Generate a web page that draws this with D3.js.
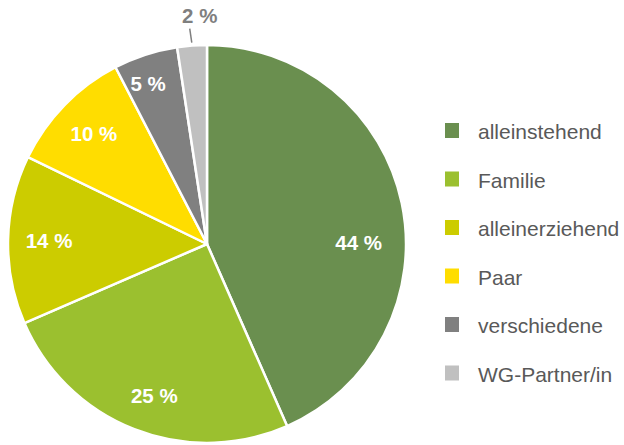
<!DOCTYPE html>
<html>
<head>
<meta charset="utf-8">
<script src="https://cdn.jsdelivr.net/npm/d3@7"></script>
<style>
  html, body { margin: 0; padding: 0; background: #fff; }
  svg { display: block; font-family: "Liberation Sans", Arial, sans-serif; }
</style>
</head>
<body>
<div id="chart"></div>
<script>
/* DATA */
const categories = ["alleinstehend", "Familie", "alleinerziehend", "Paar", "verschiedene", "WG-Partner/in"];
const shares = [43.4, 25.1, 13.7, 10.2, 5.2, 2.4];
const labels = ["44 %", "25 %", "14 %", "10 %", "5 %", "2 %"];
const colors = ["#6a8f4f", "#9bc02f", "#cccc00", "#ffdd00", "#808080", "#c0c0c0"];

/* CONSTANTS */
const width = 624,
  height = 445,
  cx = 207,
  cy = 244,
  radius = 199;

// excel pushes a few labels off the plain centroid
const labelNudge = { "alleinstehend": [-3, 31], "Familie": [5, 5], "verschiedene": [-10, -10] };

const data = categories.map((c, i) => ({ cat: c, value: shares[i], label: labels[i], color: colors[i] }));

const svg = d3.select("#chart")
  .append("svg")
  .attr("width", width)
  .attr("height", height);

const pie = d3.pie()
  .value(d => d.value)
  .sort(null);

const arc = d3.arc().innerRadius(0).outerRadius(radius);
const labelArc = d3.arc().innerRadius(158).outerRadius(158);

const arcs = pie(data);

const g = svg.append("g").attr("transform", `translate(${cx},${cy})`);

g.selectAll("path.slice")
  .data(arcs)
  .join("path")
  .attr("class", "slice")
  .attr("d", arc)
  .attr("fill", d => d.data.color)
  .attr("stroke", "#fff")
  .attr("stroke-width", 2.5)
  .attr("stroke-linejoin", "round");

// inside labels (all but the smallest slice)
const inside = arcs.slice(0, arcs.length - 1);
g.selectAll("text.inlabel")
  .data(inside)
  .join("text")
  .attr("class", "inlabel")
  .attr("transform", d => {
    const [x, y] = labelArc.centroid(d);
    const n = labelNudge[d.data.cat] || [0, 0];
    return `translate(${x + n[0]},${y + n[1]})`;
  })
  .attr("text-anchor", "middle")
  .attr("dy", "0.36em")
  .attr("fill", "#fff")
  .attr("font-weight", "bold")
  .attr("font-size", 20.5)
  .text(d => d.data.label);

// outside label for the last slice with a leader line
const last = arcs[arcs.length - 1];
const mid = (last.startAngle + last.endAngle) / 2;
const p1 = [Math.sin(mid) * (radius + 3), -Math.cos(mid) * (radius + 3)];
const p2 = [Math.sin(mid) * (radius + 17), -Math.cos(mid) * (radius + 17)];
g.append("line")
  .attr("x1", p1[0]).attr("y1", p1[1])
  .attr("x2", p2[0] - 1).attr("y2", p2[1])
  .attr("stroke", "#7f7f7f")
  .attr("stroke-width", 1.5);
g.append("text")
  .attr("x", p2[0] + 9)
  .attr("y", p2[1] - 13)
  .attr("text-anchor", "middle")
  .attr("dy", "0.36em")
  .attr("fill", "#7f7f7f")
  .attr("font-weight", "bold")
  .attr("font-size", 20.5)
  .text(last.data.label);

/* LEGEND */
const legendY = d3.scalePoint()
  .domain(categories)
  .range([130.5, 373]);

const legend = svg.append("g")
  .selectAll("g")
  .data(data)
  .join("g")
  .attr("transform", d => `translate(445,${legendY(d.cat)})`);

legend.append("rect")
  .attr("x", 0)
  .attr("y", -7.5)
  .attr("width", 14)
  .attr("height", 15)
  .attr("fill", d => d.color);

legend.append("text")
  .attr("x", 33)
  .attr("dy", "0.42em")
  .attr("fill", "#595959")
  .attr("font-size", 21)
  .text(d => d.cat);
</script>
</body>
</html>
